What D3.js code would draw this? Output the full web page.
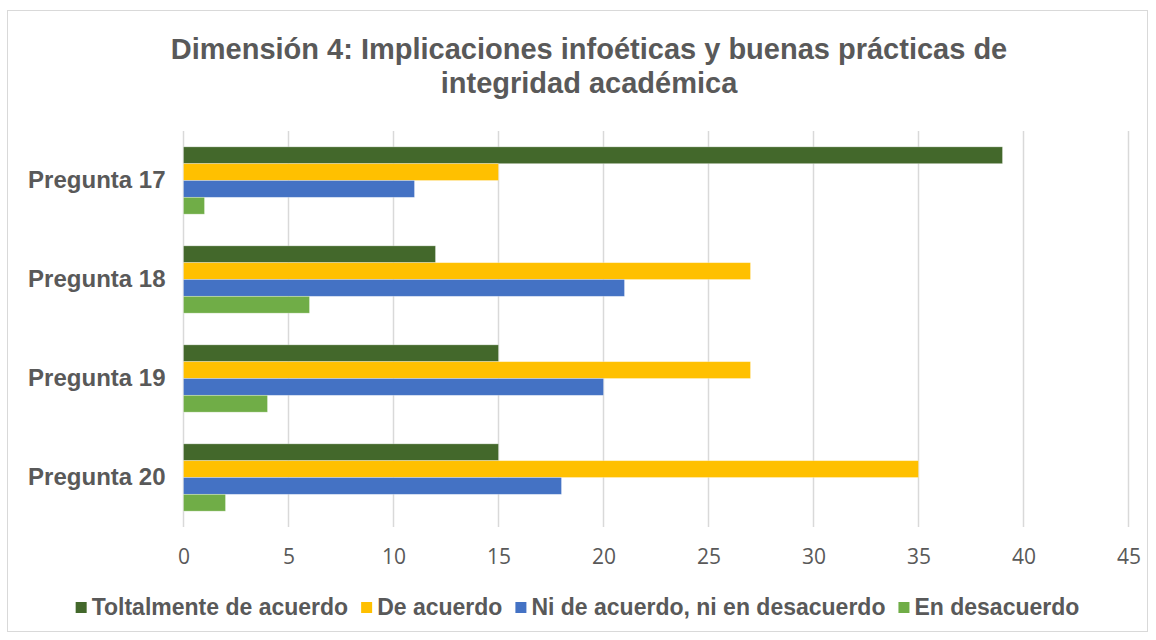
<!DOCTYPE html>
<html>
<head>
<meta charset="utf-8">
<script src="https://cdn.jsdelivr.net/npm/d3@7"></script>
<style>
  body { margin: 0; background: #fff; }
</style>
</head>
<body>
<div id="chart"></div>
<script>
// chart data
var categories = ["Pregunta 17", "Pregunta 18", "Pregunta 19", "Pregunta 20"]
var seriesNames = ["Toltalmente de acuerdo", "De acuerdo", "Ni de acuerdo, ni en desacuerdo", "En desacuerdo"]
var totalmente = [39, 12, 15, 15]
var deAcuerdo = [15, 27, 27, 35]
var ni = [11, 21, 20, 18]
var desacuerdo = [1, 6, 4, 2]
var xTicks = [0, 5, 10, 15, 20, 25, 30, 35, 40, 45]
var titleLines = ["Dimensión 4: Implicaciones infoéticas y buenas prácticas de", "integridad académica"]

var colors = ["#43682B", "#FFC000", "#4472C4", "#70AD47"]
var seriesValues = [totalmente, deAcuerdo, ni, desacuerdo]

var W = 1156, H = 640
var margin = {top: 131, right: 27.5, bottom: 113, left: 183.5}
var width = W - margin.left - margin.right,
    height = H - margin.top - margin.bottom

var svg = d3.select("#chart")
  .append("svg")
    .attr("width", W)
    .attr("height", H)

// outer border
svg.append("rect")
  .attr("x", 7.5).attr("y", 10.5)
  .attr("width", 1140).attr("height", 621)
  .attr("fill", "#fff")
  .attr("stroke", "#d9d9d9")
  .attr("stroke-width", 1)

// title
svg.selectAll("text.title")
  .data(titleLines)
  .enter()
  .append("text")
    .attr("class", "title")
    .attr("x", 589)
    .attr("y", function(d, i) { return 59 + i * 34 })
    .attr("text-anchor", "middle")
    .style("font-family", "Liberation Sans, Arial, sans-serif")
    .style("font-weight", "bold")
    .style("font-size", "29px")
    .style("fill", "#595959")
    .text(function(d) { return d })

var g = svg.append("g")
  .attr("transform", "translate(" + margin.left + "," + margin.top + ")")

var x = d3.scaleLinear()
  .domain([0, 45])
  .range([0, width])

var y = d3.scaleBand()
  .domain(categories)
  .range([0, height])
  .paddingInner(0.32)
  .paddingOuter(0.16)

var ySub = d3.scaleBand()
  .domain(seriesNames)
  .range([0, y.bandwidth()])

// gridlines
g.selectAll("line.grid")
  .data(xTicks)
  .enter()
  .append("line")
    .attr("class", "grid")
    .attr("x1", function(d) { return x(d) })
    .attr("x2", function(d) { return x(d) })
    .attr("y1", 0)
    .attr("y2", height)
    .style("stroke", "#d9d9d9")
    .style("stroke-width", "1.5px")

// x axis labels
var xAxis = g.append("g")
  .attr("transform", "translate(0," + height + ")")
  .call(d3.axisBottom(x).tickValues(xTicks).tickSize(0).tickPadding(22))
xAxis.select(".domain").remove()
xAxis.selectAll("text")
  .style("font-family", "Open Sans, sans-serif")
  .style("font-size", "21px")
  .style("fill", "#595959")

// y axis labels
var yAxis = g.append("g")
  .call(d3.axisLeft(y).tickSize(0).tickPadding(18))
yAxis.select(".domain").remove()
yAxis.selectAll("text")
  .style("font-family", "Liberation Sans, Arial, sans-serif")
  .style("font-weight", "bold")
  .style("font-size", "24px")
  .style("fill", "#595959")

// bars
seriesNames.forEach(function(name, s) {
  g.selectAll("rect.s" + s)
    .data(seriesValues[s])
    .enter()
    .append("rect")
      .attr("class", "s" + s)
      .attr("x", x(0))
      .attr("y", function(d, i) { return y(categories[i]) + ySub(name) })
      .attr("width", function(d) { return x(d) - x(0) })
      .attr("height", ySub.bandwidth())
      .attr("fill", colors[s])
      .attr("stroke", "#ffffff")
      .attr("stroke-opacity", 0.4)
      .attr("stroke-width", 0.75)
})

// legend
var legend = svg.append("g")
var lx = 0
seriesNames.forEach(function(name, i) {
  var it = legend.append("g")
  it.append("rect")
    .attr("x", 0).attr("y", -13)
    .attr("width", 11).attr("height", 11)
    .attr("fill", colors[i])
  var t = it.append("text")
    .attr("x", 16).attr("y", 0)
    .style("font-family", "Liberation Sans, Arial, sans-serif")
    .style("font-weight", "bold")
    .style("font-size", "23px")
    .style("fill", "#595959")
    .text(name)
  var w = 16 + t.node().getComputedTextLength()
  it.attr("transform", "translate(" + lx + ",0)")
  lx = lx + w + 13
})
var legendWidth = lx - 13
legend.attr("transform", "translate(" + (577.5 - legendWidth / 2) + ",615)")
</script>
</body>
</html>
